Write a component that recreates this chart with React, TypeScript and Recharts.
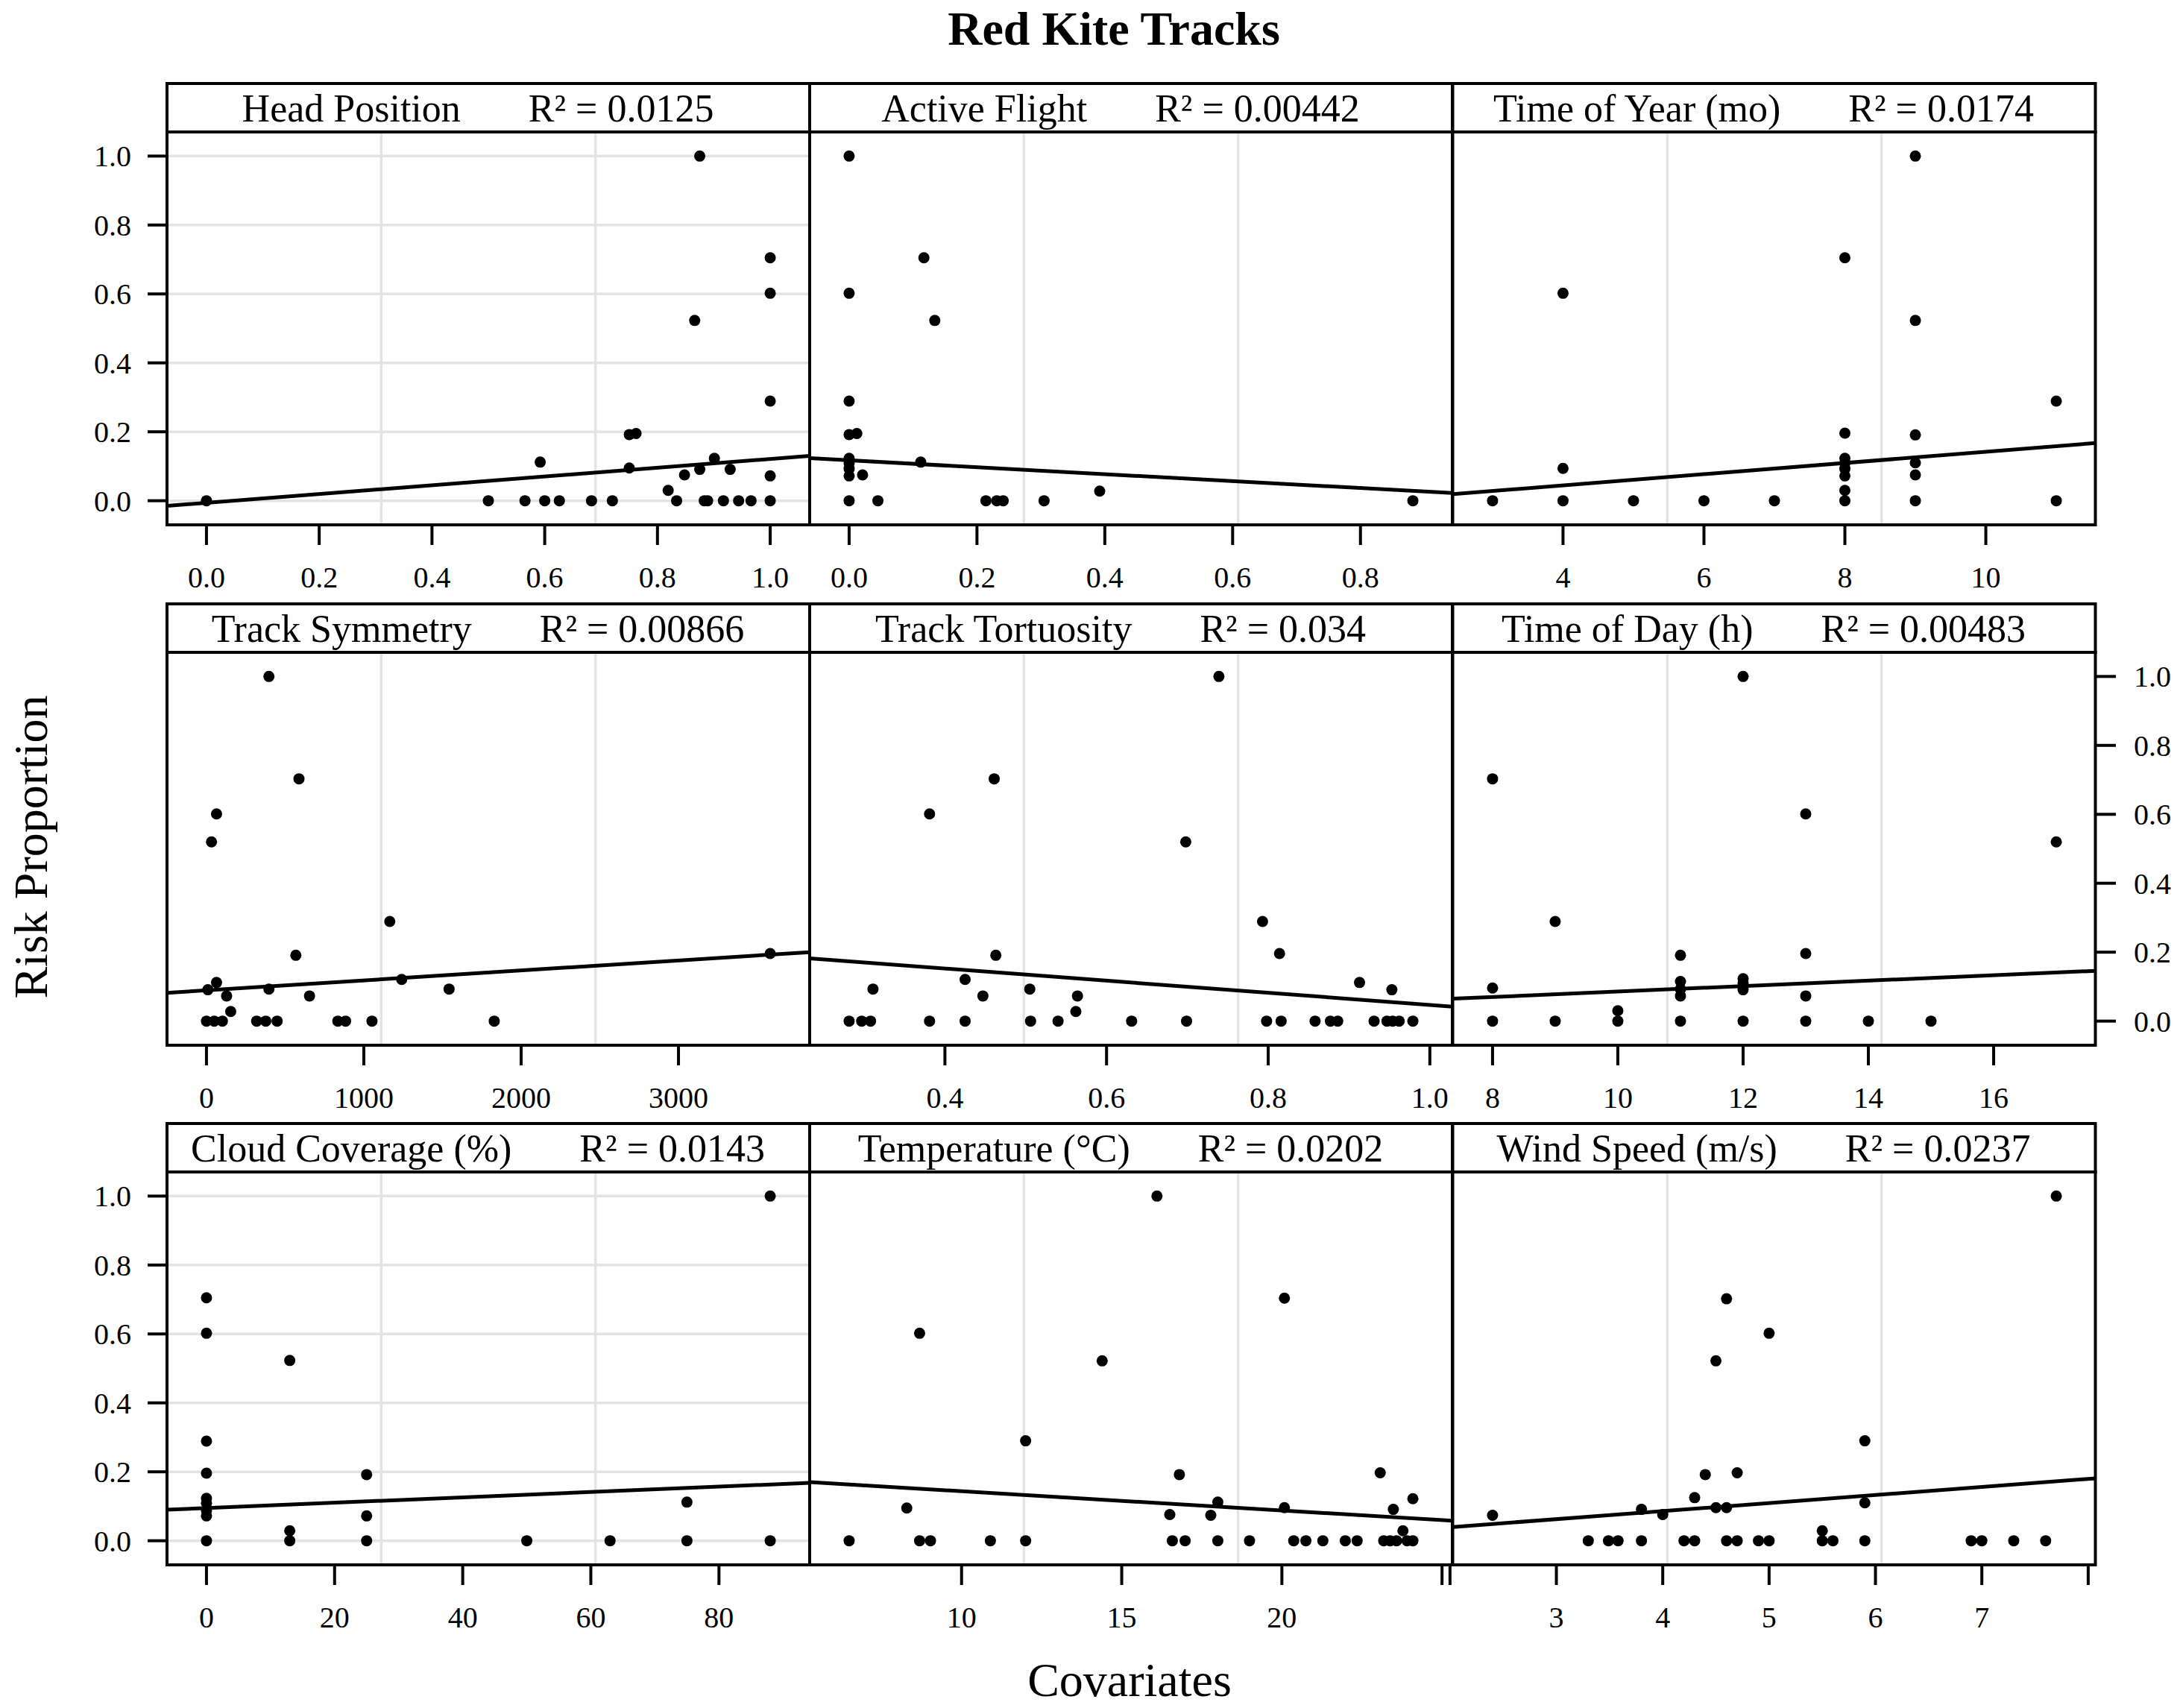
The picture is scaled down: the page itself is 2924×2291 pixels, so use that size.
import React from 'react';
import { ScatterChart, Scatter, XAxis, YAxis, CartesianGrid } from 'recharts';

const FONT = '"Liberation Serif", "Times New Roman", serif';

// [covariate, risk proportion]
const headPosition = [
  [0, 0], [0.5, 0], [0.565, 0], [0.6, 0], [0.626, 0], [0.683, 0], [0.72, 0], [0.592, 0.112],
  [0.75, 0.192], [0.762, 0.195], [0.75, 0.095], [0.819, 0.03], [0.834, 0], [0.848, 0.075],
  [0.875, 0.091], [0.866, 0.523], [0.875, 1.0], [0.883, 0], [0.889, 0], [0.901, 0.123],
  [0.917, 0], [0.929, 0.091], [0.944, 0], [0.966, 0], [1, 0.705], [1, 0.602], [1, 0.289],
  [1, 0.072], [1, 0],
];
const activeFlight = [
  [0, 1], [0, 0.602], [0.117, 0.705], [0.134, 0.523], [0, 0.289], [0, 0.192], [0.012, 0.195],
  [0, 0.123], [0, 0.109], [0, 0.093], [0, 0.072], [0.021, 0.075], [0.112, 0.112], [0, 0],
  [0.045, 0], [0.214, 0], [0.231, 0], [0.241, 0], [0.305, 0], [0.392, 0.028], [0.882, 0],
];
const timeOfYear = [
  [3, 0], [4, 0], [4, 0.602], [4, 0.094], [5, 0], [6, 0], [7, 0], [8, 0.705], [8, 0.196],
  [8, 0.123], [8, 0.109], [8, 0.093], [8, 0.072], [8, 0.03], [8, 0], [9, 1], [9, 0.523],
  [9, 0.191], [9, 0.11], [9, 0.075], [9, 0], [11, 0.289], [11, 0],
];
const trackSymmetry = [
  [397, 1], [588, 0.703], [64, 0.601], [32, 0.52], [1165, 0.289], [568, 0.191], [3583, 0.196],
  [64, 0.112], [9, 0.091], [128, 0.073], [397, 0.093], [655, 0.073], [1241, 0.121],
  [1542, 0.093], [154, 0.028], [0, 0], [49, 0], [101, 0], [319, 0], [377, 0], [449, 0],
  [835, 0], [884, 0], [1052, 0], [1829, 0],
];
const trackTortuosity = [
  [0.2815, 0], [0.297, 0], [0.308, 0], [0.311, 0.093], [0.381, 0.601], [0.381, 0],
  [0.425, 0.121], [0.425, 0], [0.447, 0.073], [0.461, 0.703], [0.463, 0.191], [0.505, 0.093],
  [0.506, 0], [0.54, 0], [0.564, 0.073], [0.562, 0.028], [0.631, 0], [0.698, 0.52],
  [0.699, 0], [0.739, 1], [0.793, 0.289], [0.814, 0.196], [0.798, 0], [0.816, 0],
  [0.858, 0], [0.877, 0], [0.886, 0], [0.913, 0.112], [0.931, 0], [0.953, 0.091],
  [0.947, 0], [0.954, 0], [0.962, 0], [0.979, 0],
];
const timeOfDay = [
  [8, 0.703], [8, 0.096], [8, 0], [9, 0.289], [9, 0], [10, 0.03], [10, 0], [11, 0.191],
  [11, 0.115], [11, 0.093], [11, 0.073], [11, 0], [12, 1], [12, 0.123], [12, 0.11],
  [12, 0.091], [12, 0], [13, 0.601], [13, 0.196], [13, 0.073], [13, 0], [14, 0], [15, 0],
  [17, 0.52],
];
const cloudCoverage = [
  [0, 0], [0, 0.072], [0, 0.088], [0, 0.109], [0, 0.123], [0, 0.196], [0, 0.289], [0, 0.602],
  [0, 0.705], [13, 0.523], [13, 0.029], [13, 0], [25, 0.192], [25, 0.072], [25, 0], [50, 0],
  [63, 0], [75, 0.112], [75, 0], [88, 1], [88, 0],
];
const temperature = [
  [6.49, 0], [8.29, 0.095], [8.69, 0.602], [8.69, 0], [9.03, 0], [10.9, 0], [12, 0.29],
  [12, 0], [14.39, 0.522], [16.1, 1], [16.5, 0.076], [16.58, 0], [16.8, 0.192], [16.98, 0],
  [17.78, 0.074], [18, 0.112], [18, 0], [18.99, 0], [20.08, 0.704], [20.08, 0.096],
  [20.37, 0], [20.75, 0], [21.28, 0], [21.98, 0], [22.35, 0], [23.07, 0.197], [23.18, 0],
  [23.38, 0], [23.48, 0.091], [23.58, 0], [23.78, 0.029], [23.91, 0], [24.09, 0.122],
  [24.09, 0],
];
const windSpeed = [
  [2.4, 0.074], [3.3, 0], [3.49, 0], [3.58, 0], [3.8, 0], [3.8, 0.091], [4, 0.076], [4.2, 0],
  [4.3, 0], [4.3, 0.125], [4.4, 0.192], [4.5, 0.522], [4.5, 0.096], [4.6, 0.702],
  [4.6, 0.096], [4.6, 0], [4.7, 0.197], [4.7, 0], [4.9, 0], [5, 0.602], [5, 0], [5.5, 0.029],
  [5.5, 0], [5.6, 0], [5.9, 0.29], [5.9, 0.11], [5.9, 0], [6.9, 0], [7, 0], [7.3, 0],
  [7.6, 0], [7.7, 1],
];

// fitted line, y at left and right edge of each panel
const fitLines = [
  [-0.015, 0.13], [0.1235, 0.0225], [0.019, 0.1675],
  [0.082, 0.2], [0.182, 0.042], [0.065, 0.146],
  [0.09, 0.168], [0.17, 0.058], [0.04, 0.181],
];

const panelNames = [
  'Head Position', 'Active Flight', 'Time of Year (mo)',
  'Track Symmetry', 'Track Tortuosity', 'Time of Day (h)',
  'Cloud Coverage (%)', 'Temperature (°C)', 'Wind Speed (m/s)',
];
const rSquared = ['0.0125', '0.00442', '0.0174', '0.00866', '0.034', '0.00483', '0.0143', '0.0202', '0.0237'];

const xTicks = [
  [0, 0.2, 0.4, 0.6, 0.8, 1.0], [0, 0.2, 0.4, 0.6, 0.8], [4, 6, 8, 10],
  [0, 1000, 2000, 3000], [0.4, 0.6, 0.8, 1.0], [8, 10, 12, 14, 16],
  [0, 20, 40, 60, 80], [10, 15, 20, 25], [2, 3, 4, 5, 6, 7, 8],
];
const xTickLabels = [
  ['0.0', '0.2', '0.4', '0.6', '0.8', '1.0'], ['0.0', '0.2', '0.4', '0.6', '0.8'], ['4', '6', '8', '10'],
  ['0', '1000', '2000', '3000'], ['0.4', '0.6', '0.8', '1.0'], ['8', '10', '12', '14', '16'],
  ['0', '20', '40', '60', '80'], ['10', '15', '20', ''], ['', '3', '4', '5', '6', '7', ''],
];
const yTicks = [0, 0.2, 0.4, 0.6, 0.8, 1.0];

const panelData = [
  headPosition, activeFlight, timeOfYear,
  trackSymmetry, trackTortuosity, timeOfDay,
  cloudCoverage, temperature, windSpeed,
];

const PLOT_W = 862;
const PLOT_H = 527;
const AXIS_W = 120;
const AXIS_H = 110;
const STRIP_H = 65;
const colLeft = [224, 1086, 1948.5];
const plotTop = [177, 875, 1572];

const tickLineStyle = { stroke: '#000', strokeWidth: 4 };
const TICK_SIZE = 40;

const Dot = (props: any) => <circle cx={props.cx} cy={props.cy} r={7.5} fill="#000" />;
const NoShape = () => <g />;

const makeXTick = (ticks: number[], labels: string[]) => (props: any) => {
  const label = labels[ticks.indexOf(props.payload.value)] ?? '';
  return (
    <text
      x={props.x}
      y={props.y}
      dy={28}
      textAnchor="middle"
      fontSize={TICK_SIZE}
      fontFamily={FONT}
      fill="#000"
    >
      {label}
    </text>
  );
};

const makeYTick = (anchor: 'start' | 'end') => (props: any) => (
  <text
    x={props.x}
    y={props.y}
    dy={14}
    textAnchor={anchor}
    fontSize={TICK_SIZE}
    fontFamily={FONT}
    fill="#000"
  >
    {Number(props.payload.value).toFixed(1)}
  </text>
);

function Panel({ idx }: { idx: number }) {
  const row = Math.floor(idx / 3);
  const col = idx % 3;
  const raw = panelData[idx];
  const xs = raw.map((d) => d[0]);
  const lo = Math.min(...xs);
  const hi = Math.max(...xs);
  const pad = (hi - lo) * 0.07;
  const domain = [lo - pad, hi + pad];
  const span = domain[1] - domain[0];
  const thirds = [domain[0] + span / 3, domain[0] + (2 * span) / 3];
  const pts = raw.map(([x, y]) => ({ x, y }));
  const fit = [
    { x: domain[0], y: fitLines[idx][0] },
    { x: domain[1], y: fitLines[idx][1] },
  ];
  const ticks = xTicks[idx];
  const labels = xTickLabels[idx];

  return (
    <div style={{ position: 'absolute', left: colLeft[col] - AXIS_W, top: plotTop[row] }}>
      <ScatterChart
        width={PLOT_W + 2 * AXIS_W}
        height={PLOT_H + AXIS_H}
        margin={{ top: 0, right: 0, bottom: 0, left: 0 }}
      >
        <CartesianGrid
          yAxisId="l"
          stroke="#e3e3e3"
          strokeWidth={3.5}
          horizontalValues={yTicks}
          verticalValues={thirds}
        />
        <XAxis
          type="number"
          dataKey="x"
          domain={domain}
          allowDataOverflow
          ticks={ticks}
          interval={0}
          height={AXIS_H}
          axisLine={false}
          tickLine={tickLineStyle}
          tickSize={27}
          tickMargin={29}
          tick={makeXTick(ticks, labels)}
        />
        <YAxis
          yAxisId="l"
          orientation="left"
          type="number"
          dataKey="y"
          domain={[-0.07, 1.07]}
          allowDataOverflow
          ticks={yTicks}
          interval={0}
          width={AXIS_W}
          axisLine={false}
          tickLine={col === 0 ? tickLineStyle : false}
          tickSize={26}
          tickMargin={22}
          tick={col === 0 && row !== 1 ? makeYTick('end') : false}
        />
        <YAxis
          yAxisId="r"
          orientation="right"
          type="number"
          dataKey="y"
          domain={[-0.07, 1.07]}
          allowDataOverflow
          ticks={yTicks}
          interval={0}
          width={AXIS_W}
          axisLine={false}
          tickLine={col === 2 ? tickLineStyle : false}
          tickSize={27}
          tickMargin={24}
          tick={col === 2 && row === 1 ? makeYTick('start') : false}
        />
        <Scatter
          yAxisId="l"
          data={fit}
          line={{ stroke: '#000', strokeWidth: 5 }}
          shape={NoShape}
          isAnimationActive={false}
        />
        <Scatter yAxisId="l" data={pts} shape={Dot} isAnimationActive={false} />
      </ScatterChart>
    </div>
  );
}

export default function App() {
  return (
    <div
      style={{
        position: 'absolute',
        left: 0,
        top: 0,
        width: 2924,
        height: 2291,
        background: '#fff',
        fontFamily: FONT,
      }}
    >
      {panelNames.map((_, i) => (
        <Panel key={i} idx={i} />
      ))}
      <svg
        width={2924}
        height={2291}
        style={{ position: 'absolute', left: 0, top: 0, pointerEvents: 'none' }}
      >
        <text x={1494} y={60} textAnchor="middle" fontSize={64} fontWeight="bold" fontFamily={FONT}>
          Red Kite Tracks
        </text>
        <text x={1515} y={2275} textAnchor="middle" fontSize={64} fontFamily={FONT}>
          Covariates
        </text>
        <text
          x={63}
          y={1136}
          textAnchor="middle"
          fontSize={64}
          fontFamily={FONT}
          transform="rotate(-90 63 1136)"
        >
          Risk Proportion
        </text>
        {panelNames.map((name, i) => {
          const row = Math.floor(i / 3);
          const col = i % 3;
          const x = colLeft[col];
          const top = plotTop[row];
          return (
            <g key={i}>
              <rect
                x={x}
                y={top - STRIP_H}
                width={PLOT_W}
                height={STRIP_H}
                fill="#fff"
                stroke="#000"
                strokeWidth={4}
              />
              <rect x={x} y={top} width={PLOT_W} height={PLOT_H} fill="none" stroke="#000" strokeWidth={4} />
              <text
                x={x + PLOT_W / 2 - 14}
                y={top - STRIP_H + 51}
                textAnchor="middle"
                fontSize={52}
                fontFamily={FONT}
                xmlSpace="preserve"
                style={{ whiteSpace: 'pre' }}
              >
                {`${name}       R² = ${rSquared[i]}`}
              </text>
            </g>
          );
        })}
      </svg>
    </div>
  );
}
